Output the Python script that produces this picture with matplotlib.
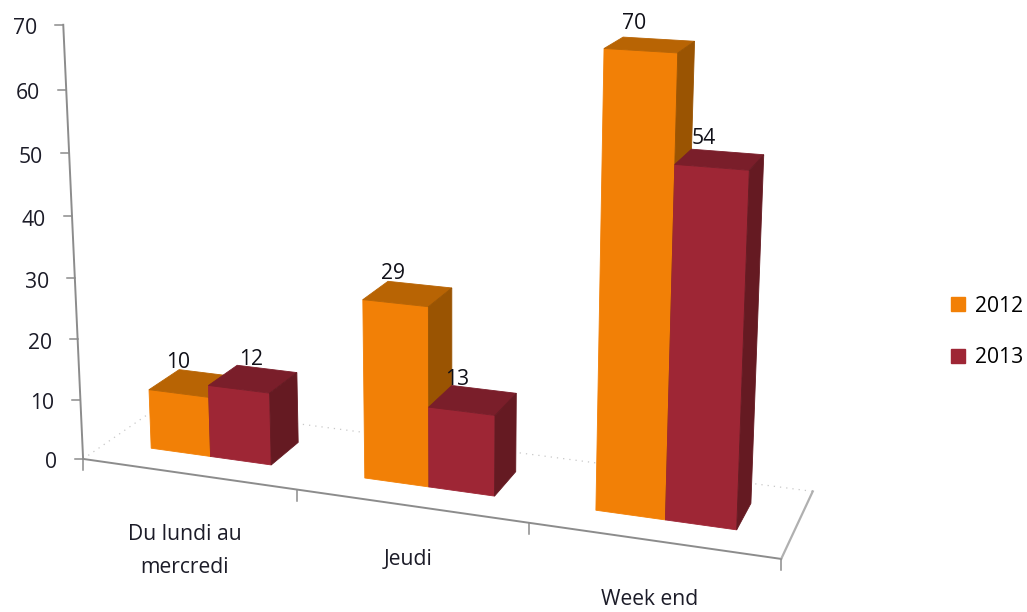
import matplotlib

matplotlib.use("Agg")

import matplotlib.pyplot as plt
import numpy as np
from matplotlib.lines import Line2D

categories = ["Du lundi au\nmercredi", "Jeudi", "Week end"]
series_names = ["2012", "2013"]
values_2012 = [10, 29, 70]
values_2013 = [12, 13, 54]
y_ticks = [0, 10, 20, 30, 40, 50, 60, 70]

ORANGE = ("#f28006", "#b86404", "#9a5402")
MAROON = ("#9e2635", "#7a1e2a", "#651a22")
TEXT = "#1c1c28"
AXIS = "#8c8c8c"
FONT_SIZE = 15.2

# camera calibration: (category pos, depth, value) -> picture pixel
ANCHORS = [
    (0, 0, 0, 84, 460), (0, 0, 70, 63, 25), (0, 0, 60, 66, 89), (0, 0, 50, 69, 154),
    (0, 0, 10, 80, 399), (3, 0, 0, 781, 559), (3, 1, 0, 813, 491), (0, 1, 0, 158, 407),
    (1, 0, 0, 295, 490), (2, 0, 0, 527, 525),
    (0.214, 0.3, 0, 152, 448), (0.5, 0.3, 0, 211, 456), (0.214, 0.3, 10, 150, 390),
    (0.786, 0.3, 0, 272, 464), (0.786, 0.3, 12, 270, 392), (0.786, 0.7, 12, 298, 372),
    (0.786, 0.7, 0, 298, 441),
    (1.214, 0.3, 29, 363, 300), (1.5, 0.3, 29, 429, 306), (1.214, 0.3, 0, 365, 478),
    (1.5, 0.3, 0, 429, 487), (1.786, 0.3, 0, 495, 496), (1.786, 0.7, 0, 516, 472),
    (1.5, 0.7, 29, 452, 288), (1.214, 0.7, 29, 389, 282),
    (2.214, 0.3, 70, 604, 48), (2.5, 0.3, 70, 678, 52), (2.214, 0.3, 0, 596, 510),
    (2.5, 0.3, 0, 665, 520), (2.786, 0.3, 0, 737, 530), (2.786, 0.3, 54, 750, 170),
    (2.786, 0.7, 54, 764, 155), (2.786, 0.7, 0, 751, 503), (2.5, 0.7, 70, 695, 42),
    (2.214, 0.7, 70, 621, 38),
]


def fit_camera(anchors):
    rows = []
    for u, v, h, px, py in anchors:
        w = [u / 3, v, h / 70, 1.0]
        x, y = px / 1000, py / 1000
        rows.append(w + [0, 0, 0, 0] + [-x * c for c in w])
        rows.append([0, 0, 0, 0] + w + [-y * c for c in w])
    _, _, vt = np.linalg.svd(np.array(rows))
    return vt[-1].reshape(3, 4)


CAMERA = fit_camera(ANCHORS)


def project(u, v, h):
    p = CAMERA @ np.array([u / 3, v, h / 70, 1.0])
    return p[0] / p[2] * 1000, p[1] / p[2] * 1000


def draw_box(ax, u0, u1, v0, v1, h, colors):
    faces = [
        [(u0, v0, 0), (u1, v0, 0), (u1, v0, h), (u0, v0, h)],
        [(u0, v0, h), (u1, v0, h), (u1, v1, h), (u0, v1, h)],
        [(u1, v0, 0), (u1, v1, 0), (u1, v1, h), (u1, v0, h)],
    ]
    for face, color in zip(faces, colors):
        xs, ys = zip(*[project(*pt) for pt in face])
        ax.fill(xs, ys, color=color, lw=0.6, zorder=3)


plt.rcParams["font.family"] = ["Open Sans", "DejaVu Sans"]
fig = plt.figure(figsize=(10.27, 6.12), dpi=100)
ax = fig.add_axes([0, 0, 1, 1])
ax.set_xlim(0, 1027)
ax.set_ylim(612, 0)
ax.axis("off")

# floor
x, y = zip(project(0, 0, 0), project(3, 0, 0))
ax.plot(x, y, color=AXIS, lw=1.4, zorder=2)
x, y = zip(project(3, 0, 0), project(3, 1, 0))
ax.plot(x, y, color="#b0b0b0", lw=1.6, zorder=2)
x, y = zip(project(0, 0, 0), project(0, 1, 0), project(3, 1, 0))
ax.plot(x, y, color="#c8c8c8", lw=0.9, ls=(0, (1, 4)), zorder=1)

# value axis
x, y = zip(project(0, 0, 0), project(0, 0, 70))
ax.plot(x, y, color=AXIS, lw=1.4, zorder=2)
for tick in y_ticks:
    px, py = project(0, 0, tick)
    ax.plot([px - 8, px], [py, py], color=AXIS, lw=1.1, zorder=2)
    ax.text(px - 26, py + 4, str(tick), ha="right", va="center", fontsize=FONT_SIZE, color=TEXT)

# category ticks
for pos in range(4):
    px, py = project(pos, 0, 0)
    ax.plot([px, px], [py, py + 11], color=AXIS, lw=1.1, zorder=2)

# bars
bar_w = 1 / 3.5
label_shift = {(0, 1): (-2, -19), (1, 0): (-15, -20)}
for i, pair in enumerate(zip(values_2012, values_2013)):
    for j, (val, colors) in enumerate(zip(pair, (ORANGE, MAROON))):
        u0 = i + 0.5 + (j - 1) * bar_w
        draw_box(ax, u0, u0 + bar_w, 0.3, 0.7, val, colors)
        px, py = project(u0 + bar_w / 2, 0.5, val)
        dx, dy = label_shift.get((i, j), (-16, -21))
        ax.text(px + dx, py + dy, str(val), ha="center", va="center", fontsize=FONT_SIZE,
                color="#101018", zorder=4)

# category labels
for i, (name, drop) in enumerate(zip(categories, (77, 54, 59))):
    px, py = project(i + 0.5, 0, 0)
    ax.text(px - 3, py + drop, name, ha="center", va="center", fontsize=FONT_SIZE,
            color=TEXT, linespacing=1.75)

handles = [
    Line2D([], [], ls="none", marker="s", ms=9.6, color=ORANGE[0], label=series_names[0]),
    Line2D([], [], ls="none", marker="s", ms=9.6, color=MAROON[0], label=series_names[1]),
]
ax.legend(handles=handles, loc="center left", bbox_to_anchor=(947, 332),
          bbox_transform=ax.transData, frameon=False, fontsize=FONT_SIZE, borderpad=0,
          borderaxespad=0, handlelength=1.0, handletextpad=0.35, labelspacing=1.45)

fig.savefig("out.png", dpi=100)
